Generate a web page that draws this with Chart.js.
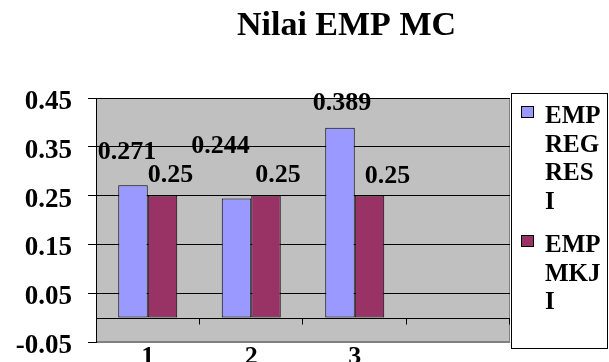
<!DOCTYPE html>
<html>
<head>
<meta charset="utf-8">
<script src="https://cdn.jsdelivr.net/npm/chart.js@4.4.1/dist/chart.umd.min.js"></script>
<style>
  html, body { margin: 0; padding: 0; background: #fff; }
  #wrap { width: 609px; height: 362px; }
</style>
</head>
<body>
<div id="wrap"><canvas id="chart" width="609" height="362"></canvas></div>
<script>
const chartTitle = 'Nilai EMP MC';
const categories = ['1', '2', '3', ''];
const seriesNames = ['EMP REGRESI', 'EMP MKJI'];
const empRegresi = [0.271, 0.244, 0.389, null];
const empMkji = [0.25, 0.25, 0.25, null];
const yTickValues = [-0.05, 0.05, 0.15, 0.25, 0.35, 0.45];
const yTickLabels = ['-0.05', '0.05', '0.15', '0.25', '0.35', '0.45'];

const serif = '"Liberation Serif", "Times New Roman", serif';
const colors = ['#9999FF', '#993366'];
// the value labels in the original are pushed around to dodge each other,
// so each one gets its own nudge from the top of its bar
const labelShift = [
  [[-6, -26], [-16, -46], [2, -18]],
  [[8, -14], [12, -14], [18, -13]]
];

function wrapChars(ctx, text, maxW) {
  const lines = [];
  let line = '';
  for (const word of text.split(' ')) {
    const cand = line ? line + ' ' + word : word;
    if (ctx.measureText(cand).width <= maxW) { line = cand; continue; }
    if (line) { lines.push(line); line = ''; }
    for (const ch of word) {
      if (line && ctx.measureText(line + ch).width > maxW) { lines.push(line); line = ''; }
      line += ch;
    }
  }
  if (line) lines.push(line);
  return lines;
}

const excelLook = {
  id: 'excelLook',
  beforeDraw(chart) {
    const { ctx, chartArea: a } = chart;
    ctx.save();
    ctx.fillStyle = '#C0C0C0';
    ctx.fillRect(a.left, a.top, a.right - a.left, a.bottom - a.top);
    ctx.strokeStyle = '#808080';
    ctx.lineWidth = 1;
    ctx.strokeRect(a.left + 0.5, a.top + 0.5, a.right - a.left - 1, a.bottom - a.top - 1);
    ctx.restore();
  },
  afterDatasetsDraw(chart) {
    const { ctx, chartArea: a, scales: { x, y } } = chart;
    const y0 = Math.round(y.getPixelForValue(0)) + 0.5;
    const step = (a.right - a.left) / categories.length;
    ctx.save();
    ctx.strokeStyle = '#000';
    ctx.lineWidth = 1;
    ctx.beginPath();
    ctx.moveTo(a.left, y0);
    ctx.lineTo(a.right, y0);
    categories.forEach((c, i) => {
      const px = Math.round(x.getPixelForValue(i) + step / 2) - 0.5;
      ctx.moveTo(px, y0);
      ctx.lineTo(px, y0 + 6);
    });
    ctx.stroke();

    ctx.fillStyle = '#000';
    ctx.textBaseline = 'alphabetic';

    // axis labels
    ctx.font = 'bold 27px ' + serif;
    ctx.textAlign = 'right';
    yTickValues.forEach((v, i) => {
      ctx.fillText(yTickLabels[i], a.left - 24, y.getPixelForValue(v) + 11);
    });
    ctx.font = 'bold 26px ' + serif;
    ctx.textAlign = 'center';
    categories.forEach((c, i) => {
      ctx.fillText(c, x.getPixelForValue(i), a.bottom + 22);
    });

    // value labels
    chart.data.datasets.forEach((ds, di) => {
      const meta = chart.getDatasetMeta(di);
      ds.data.forEach((v, i) => {
        if (v == null) return;
        const bar = meta.data[i];
        const [dx, dy] = labelShift[di][i];
        ctx.fillText(String(v), bar.x + dx, bar.y + dy);
      });
    });
    ctx.restore();
  },
  afterDraw(chart) {
    const { ctx } = chart;
    ctx.save();
    ctx.fillStyle = '#000';
    ctx.font = 'bold 34px ' + serif;
    ctx.textAlign = 'center';
    ctx.textBaseline = 'alphabetic';
    ctx.fillText(chartTitle, 346.5, 35);

    // legend box on the right
    const box = { left: 511, top: 93, width: 96, height: 255 };
    ctx.fillStyle = '#fff';
    ctx.fillRect(box.left, box.top, box.width, box.height);
    ctx.strokeStyle = '#000';
    ctx.lineWidth = 1;
    ctx.strokeRect(box.left + 0.5, box.top + 0.5, box.width, box.height);

    ctx.font = 'bold 25px ' + serif;
    ctx.textAlign = 'left';
    const lh = 28.5;
    let base = box.top + 30;
    chart.data.datasets.forEach((ds) => {
      ctx.fillStyle = ds.backgroundColor;
      ctx.fillRect(box.left + 10, base - 17, 13, 12);
      ctx.strokeStyle = '#000';
      ctx.strokeRect(box.left + 10.5, base - 16.5, 12, 11);
      ctx.fillStyle = '#000';
      const lines = wrapChars(ctx, ds.label, 57);
      lines.forEach((ln, k) => ctx.fillText(ln, box.left + 34, base + k * lh));
      base += lines.length * lh + 15;
    });
    ctx.restore();
  }
};

new Chart(document.getElementById('chart'), {
  type: 'bar',
  data: {
    labels: categories,
    datasets: [
      { label: seriesNames[0], data: empRegresi, backgroundColor: colors[0] },
      { label: seriesNames[1], data: empMkji, backgroundColor: colors[1] }
    ].map(d => Object.assign(d, {
      borderColor: '#000',
      borderWidth: 1,
      borderSkipped: false,
      categoryPercentage: 0.57,
      barPercentage: 1
    }))
  },
  options: {
    responsive: false,
    animation: false,
    devicePixelRatio: 1,
    layout: { padding: { top: 98, right: 99, left: 88, bottom: 20 } },
    plugins: {
      legend: { display: false },
      title: { display: false },
      tooltip: { enabled: false }
    },
    scales: {
      x: {
        grid: { display: false, drawTicks: false },
        border: { display: false },
        ticks: { display: false }
      },
      y: {
        min: -0.05,
        max: 0.45,
        afterBuildTicks(s) { s.ticks = yTickValues.map(v => ({ value: v })); },
        ticks: { display: false },
        grid: {
          color: c => (c.tick && c.tick.value === -0.05 ? '#808080' : '#000'),
          tickColor: '#000',
          tickLength: 8,
          lineWidth: 1
        },
        border: { color: '#000', width: 1 }
      }
    }
  },
  plugins: [excelLook]
});
</script>
</body>
</html>
